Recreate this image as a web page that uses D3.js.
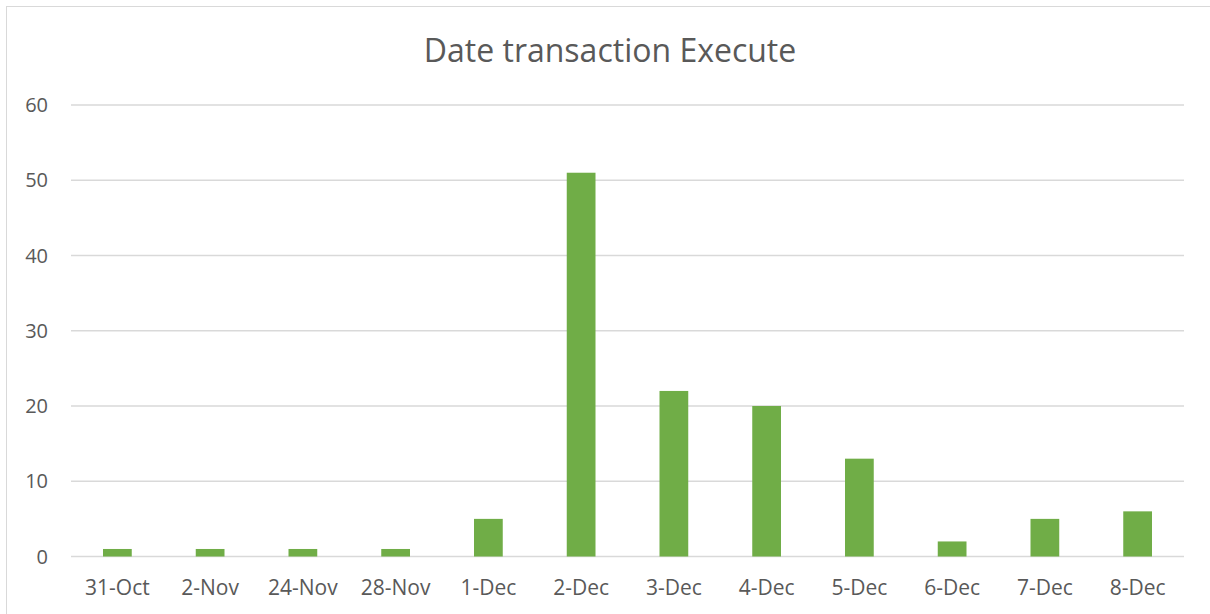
<!DOCTYPE html>
<html>
<head>
<meta charset="utf-8">
<script src="https://cdn.jsdelivr.net/npm/d3@7"></script>
<style>
  body { margin: 0; background: #fff; }
  svg text { font-family: "Open Sans", "DejaVu Sans", sans-serif; fill: #595959; }
</style>
</head>
<body>
<div id="chart"></div>
<script>
var dates = ["31-Oct", "2-Nov", "24-Nov", "28-Nov", "1-Dec", "2-Dec", "3-Dec", "4-Dec", "5-Dec", "6-Dec", "7-Dec", "8-Dec"];
var counts = [1, 1, 1, 1, 5, 51, 22, 20, 13, 2, 5, 6];
var yTicks = [0, 10, 20, 30, 40, 50, 60];

var W = 1210, H = 614;
var plotL = 71, plotR = 1184, plotT = 105, plotB = 556.5;

var svg = d3.select("#chart").append("svg")
    .attr("width", W)
    .attr("height", H);

svg.append("rect")
    .attr("x", 6.5).attr("y", 6.5)
    .attr("width", W).attr("height", H)
    .attr("fill", "#fff")
    .attr("stroke", "#d9d9d9");

svg.append("text")
    .attr("x", 610).attr("y", 62)
    .attr("text-anchor", "middle")
    .style("font-size", "32px")
    .text("Date transaction Execute");

var x = d3.scaleBand().domain(dates).range([plotL, plotR]).paddingInner(0.69).paddingOuter(0.345);
var y = d3.scaleLinear().domain([0, 60]).range([plotB, plotT]);

// gridlines
svg.append("g").selectAll("line")
    .data(yTicks)
    .enter().append("line")
    .attr("x1", plotL).attr("x2", plotR)
    .attr("y1", function(d){ return y(d); })
    .attr("y2", function(d){ return y(d); })
    .attr("stroke", "#d9d9d9")
    .attr("stroke-width", 1.5);

// y labels
svg.append("g").selectAll("text")
    .data(yTicks)
    .enter().append("text")
    .attr("x", 48)
    .attr("y", function(d){ return y(d) + 7; })
    .attr("text-anchor", "end")
    .style("font-size", "20px")
    .text(function(d){ return d; });

// bars
svg.append("g").selectAll("rect")
    .data(counts)
    .enter().append("rect")
    .attr("x", function(d, i){ return x(dates[i]); })
    .attr("width", x.bandwidth())
    .attr("y", function(d){ return y(d); })
    .attr("height", function(d){ return y(0) - y(d); })
    .attr("fill", "#70ad47");

// x labels
svg.append("g").selectAll("text")
    .data(dates)
    .enter().append("text")
    .attr("x", function(d){ return x(d) + x.bandwidth() / 2; })
    .attr("y", 595)
    .attr("text-anchor", "middle")
    .style("font-size", "21px")
    .text(function(d){ return d; });
</script>
</body>
</html>
